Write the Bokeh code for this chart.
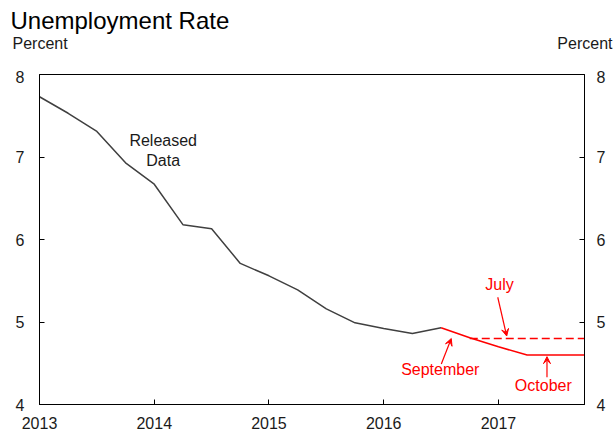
from bokeh.plotting import figure
from bokeh.layouts import column
from bokeh.models import Range1d, LinearAxis, FixedTicker, Label, Arrow, VeeHead
from bokeh.embed import file_html
from bokeh.resources import INLINE

# ---- data ----
released_x = [2013.0, 2013.25, 2013.5, 2013.75, 2014.0, 2014.25, 2014.5, 2014.75,
              2015.0, 2015.25, 2015.5, 2015.75, 2016.0, 2016.25, 2016.5]
released_y = [7.73, 7.53, 7.31, 6.93, 6.67, 6.18, 6.13, 5.71,
              5.56, 5.39, 5.16, 4.99, 4.92, 4.86, 4.93]
current_x = [2016.5, 2016.75, 2017.0, 2017.25, 2017.5, 2017.75]
current_y = [4.93, 4.81, 4.70, 4.60, 4.60, 4.60]
july_x = [2016.75, 2017.0, 2017.25, 2017.5, 2017.75]
july_y = [4.80, 4.80, 4.80, 4.80, 4.80]
year_ticks = [2013, 2014, 2015, 2016, 2017]
y_ticks = [4, 5, 6, 7, 8]

FONT = "Liberation Sans"
RED = "#ff0000"
GRAY = "#404040"
TXT = "#1a1a1a"

# ---- header (title + unit labels) ----
h = figure(width=613, height=70, output_backend="svg", toolbar_location=None,
           x_range=Range1d(0, 613), y_range=Range1d(70, 0),
           x_axis_type=None, y_axis_type=None,
           min_border_left=0, min_border_right=0, min_border_top=0, min_border_bottom=0)
h.grid.visible = False
h.outline_line_color = None
if "frame_align" in h.properties():
    h.frame_align = False

def hlab(x, y, text, size, align):
    h.add_layout(Label(x=x, y=y, text=text, text_font=FONT, text_font_size=size,
                       text_color="black" if size == "24px" else TXT,
                       text_align=align, text_baseline="alphabetic"))

hlab(10, 20, "Unemployment Rate", "24px", "left")
hlab(12, 43, "Percent", "16px", "left")
hlab(612, 43, "Percent", "16px", "right")

# ---- main chart ----
p = figure(width=613, height=368, output_backend="svg", toolbar_location=None,
           x_range=Range1d(2013, 2017.75), y_range=Range1d(4, 8),
           min_border_left=39, min_border_right=29, min_border_top=4, min_border_bottom=34)
p.grid.visible = False
p.outline_line_color = "black"
p.outline_line_width = 1
if "frame_align" in p.properties():
    p.frame_align = False

right_axis = LinearAxis()
p.add_layout(right_axis, "right")

for ax in p.xaxis:
    ax.ticker = FixedTicker(ticks=year_ticks)
    ax.major_label_standoff = 12
for ax in [p.yaxis[0], right_axis]:
    ax.ticker = FixedTicker(ticks=y_ticks)
p.yaxis[0].major_label_standoff = 15
right_axis.major_label_standoff = 12

for ax in list(p.xaxis) + [p.yaxis[0], right_axis]:
    ax.axis_line_color = "black"
    ax.major_tick_line_color = "black"
    ax.major_tick_in = 5
    ax.major_tick_out = 0
    ax.minor_tick_line_color = None
    ax.major_label_text_font = FONT
    ax.major_label_text_font_size = "16px"
    ax.major_label_text_color = TXT

p.line(released_x, released_y, line_color=GRAY, line_width=1.5)
p.line(current_x, current_y, line_color=RED, line_width=1.6)
p.line(july_x, july_y, line_color=RED, line_width=1.6, line_dash="8 4")

def lab(x, y, text, color=TXT):
    p.add_layout(Label(x=x, y=y, text=text, text_font=FONT, text_font_size="16px",
                       text_color=color, text_align="center", text_baseline="middle"))

lab(2014.078, 7.20, "Released")
lab(2014.078, 6.96, "Data")
lab(2017.009, 5.46, "July", RED)
lab(2016.493, 4.42, "September", RED)
lab(2017.391, 4.23, "October", RED)

def arr(x0, y0, x1, y1):
    p.add_layout(Arrow(x_start=x0, y_start=y0, x_end=x1, y_end=y1,
                       line_color=RED, line_width=1.2,
                       end=VeeHead(size=7, line_color=RED, fill_color=RED, line_width=1)))

arr(2016.994, 5.30, 2017.072, 4.83)
arr(2016.502, 4.49, 2016.589, 4.80)
arr(2017.423, 4.33, 2017.423, 4.58)

layout = column(h, p, spacing=0)
open("out.html", "w").write(file_html(layout, INLINE))
